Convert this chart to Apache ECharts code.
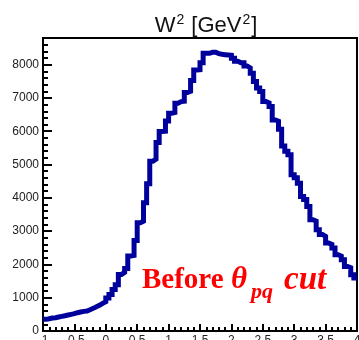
<!DOCTYPE html>
<html>
<head>
<meta charset="utf-8">
<script src="https://cdn.jsdelivr.net/npm/echarts@6/dist/echarts.min.js"></script>
<style>
  html, body { margin: 0; padding: 0; background: #fff; }
  #chart { width: 359px; height: 340px; }
</style>
</head>
<body>
<div id="chart"></div>
<script>
// W^2 histogram binning: 100 bins of 0.05 GeV^2 between -1 and 4
const xRange = [-1, 4];
const counts = [
  350, 370, 390, 400, 420, 440, 460, 480, 500, 520,
  550, 570, 590, 600, 640, 680, 730, 770, 830, 880,
  990, 1100, 1250, 1390, 1700, 1760, 1880, 2250, 2270, 2720,
  3250, 3300, 3850, 4420, 5100, 5160, 5660, 5990, 6000, 6310,
  6540, 6560, 6840, 6890, 6900, 7160, 7200, 7520, 7840, 7850,
  8060, 8340, 8340, 8370, 8370, 8330, 8310, 8300, 8290, 8280,
  8190, 8100, 8060, 8060, 7960, 7900, 7740, 7490, 7300, 7190,
  6890, 6850, 6740, 6340, 6300, 6060, 5560, 5400, 5290, 4690,
  4600, 4440, 4040, 3950, 3740, 3340, 3300, 3040, 2900, 2840,
  2640, 2600, 2490, 2290, 2250, 2140, 1940, 1900, 1690, 1590
];
const xTicks = [-1, -0.5, 0, 0.5, 1, 1.5, 2, 2.5, 3, 3.5, 4];
const yTicks = [0, 1000, 2000, 3000, 4000, 5000, 6000, 7000, 8000];
const yMax = 8800;

// step outline: each bin contributes its low edge, plus the closing upper edge
const binWidth = (xRange[1] - xRange[0]) / counts.length;
const stepData = counts.map((c, i) => [xRange[0] + i * binWidth, c]);
stepData.push([xRange[1], counts[counts.length - 1]]);

const chart = echarts.init(document.getElementById('chart'), null, { renderer: 'canvas' });

const labelFont = { fontFamily: 'Liberation Sans, Arial, sans-serif', fontSize: 12, color: '#222' };

chart.setOption({
  animation: false,
  backgroundColor: '#fff',
  title: {
    text: 'W{s|2} [GeV{s|2}]',
    left: 201,
    textAlign: 'center',
    top: 8,
    textStyle: {
      fontFamily: 'Liberation Sans, Arial, sans-serif',
      fontSize: 22,
      fontWeight: 'normal',
      color: '#111',
      rich: {
        s: { fontSize: 14, verticalAlign: 'top', padding: [0, 1, 12, 1],
             fontFamily: 'Liberation Sans, Arial, sans-serif', color: '#111' }
      }
    }
  },
  grid: {
    left: 43, right: 2, top: 38, bottom: 9,
    outerBoundsMode: 'none',
    containLabel: false,
    show: true, borderColor: '#000', borderWidth: 2, backgroundColor: 'transparent'
  },
  xAxis: [{
    type: 'value',
    min: xRange[0], max: xRange[1], interval: 0.5,
    axisLine: { show: true, onZero: false, lineStyle: { color: '#000', width: 2 } },
    axisTick: { show: true, inside: true, length: 7, lineStyle: { color: '#000', width: 2 } },
    minorTick: { show: true, splitNumber: 5, length: 4, lineStyle: { color: '#000', width: 2 } },
    splitLine: { show: false },
    axisLabel: Object.assign({ margin: 4, customValues: xTicks,
      formatter: v => String(v) }, labelFont)
  }],
  yAxis: [{
    type: 'value',
    min: 0, max: yMax, interval: 1000,
    axisLine: { show: true, onZero: false, lineStyle: { color: '#000', width: 2 } },
    axisTick: { show: true, inside: true, length: 9, lineStyle: { color: '#000', width: 2 } },
    splitLine: { show: false },
    axisLabel: Object.assign({ margin: 4, customValues: yTicks,
      formatter: v => String(v) }, labelFont)
  }, {
    // secondary tick ladder every 200 counts on the same left edge
    type: 'value',
    position: 'left',
    min: 0, max: yMax, interval: 200,
    axisLine: { show: false, onZero: false },
    axisTick: { show: true, inside: true, length: 5, lineStyle: { color: '#000', width: 2 } },
    axisLabel: { show: false },
    splitLine: { show: false }
  }],
  series: [{
    type: 'line',
    xAxisIndex: 0, yAxisIndex: 0,
    step: 'end',
    data: stepData,
    showSymbol: false,
    symbol: 'none',
    clip: true,
    lineStyle: { color: '#00009c', width: 5, cap: 'butt', join: 'miter' }
  }],
  graphic: [
    { type: 'text', left: 142, top: 266, z: 100,
      style: { text: 'Before', fill: '#ff0000',
        font: 'bold 29px "Liberation Serif", "Times New Roman", serif' } },
    { type: 'text', left: 231, top: 264, z: 100,
      style: { text: 'θ', fill: '#ff0000',
        font: 'italic bold 31px "Liberation Serif", "Times New Roman", serif' } },
    { type: 'text', left: 251, top: 281, z: 100,
      style: { text: 'pq', fill: '#ff0000',
        font: 'italic bold 22px "Liberation Serif", "Times New Roman", serif' } },
    { type: 'text', left: 284, top: 264, z: 100,
      style: { text: 'cut', fill: '#ff0000',
        font: 'italic bold 33px "Liberation Serif", "Times New Roman", serif' } }
  ]
});
</script>
</body>
</html>
